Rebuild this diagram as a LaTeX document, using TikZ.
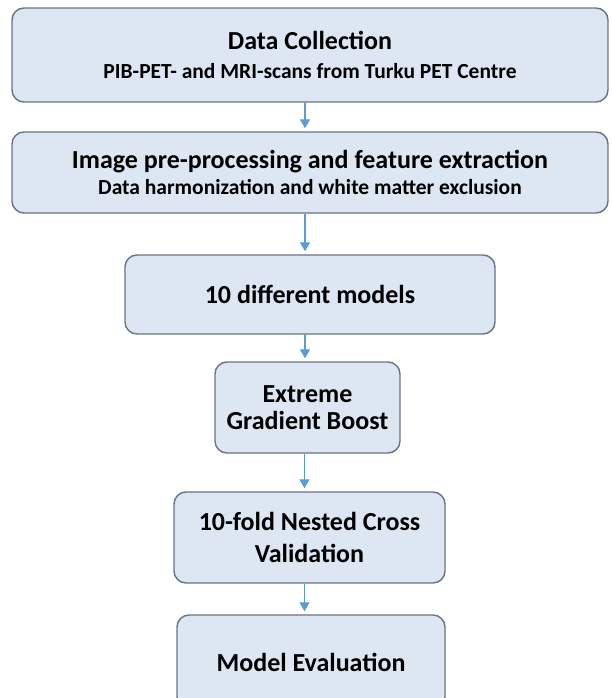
\documentclass[tikz,border=0pt]{standalone}
\usepackage{fontspec}
\setmainfont{Carlito}
\usetikzlibrary{arrows.meta}
\definecolor{boxfill}{RGB}{221,231,243}
\definecolor{boxline}{RGB}{105,115,130}
\definecolor{arrowblue}{RGB}{91,155,213}
\begin{document}
\begin{tikzpicture}[x=1pt,y=-1pt,
    stage/.style={draw=boxline, line width=1.4pt, fill=boxfill, rounded corners=12pt,
        align=center, font=\bfseries\fontsize{26}{31}\selectfont, inner sep=0pt},
    flow/.style={-{Triangle[width=10pt,length=9pt]}, arrowblue, line width=1.3pt, shorten >=3pt}]  %pipeline
        \useasboundingbox (0,0) rectangle (612,698);
        \node[stage, minimum width=596pt, minimum height=94pt] (collect) at (310,55)
            {Data Collection\\[-2.5pt]{\fontsize{21.5}{25}\selectfont PIB-PET- and MRI-scans from Turku PET Centre}};
        \node[stage, minimum width=596pt, minimum height=81pt] (prep) at (310,172.5)
            {Image pre-processing and feature extraction\\[-4.5pt]{\fontsize{21.5}{25}\selectfont Data harmonization and white matter exclusion}};
        \node[stage, minimum width=370pt, minimum height=79pt] (models) at (310,294.5) {10 different models};
        \node[stage, minimum width=185pt, minimum height=91pt] (xgb) at (307.5,407.5) {Extreme\\[-4pt]Gradient Boost};
        \node[stage, minimum width=271pt, minimum height=91pt] (cv) at (309.5,537.5) {10-fold Nested Cross\\[1pt]Validation};
        \node[stage, minimum width=268pt, minimum height=94pt] (eval) at (311,662) {Model Evaluation};
        \draw[flow] ([xshift=-5pt]collect.south) -- ([xshift=-5pt]collect.south |- prep.north);
        \draw[flow] ([xshift=-5pt]prep.south) -- ([xshift=-5pt]prep.south |- models.north);
        \draw[flow] ([xshift=-5pt]models.south) -- ([xshift=-5pt]models.south |- xgb.north);
        \draw[flow] ([xshift=-3pt]xgb.south) -- ([xshift=-3pt]xgb.south |- cv.north);
        \draw[flow] ([xshift=-5pt]cv.south) -- ([xshift=-5pt]cv.south |- eval.north);
\end{tikzpicture}
\end{document}
